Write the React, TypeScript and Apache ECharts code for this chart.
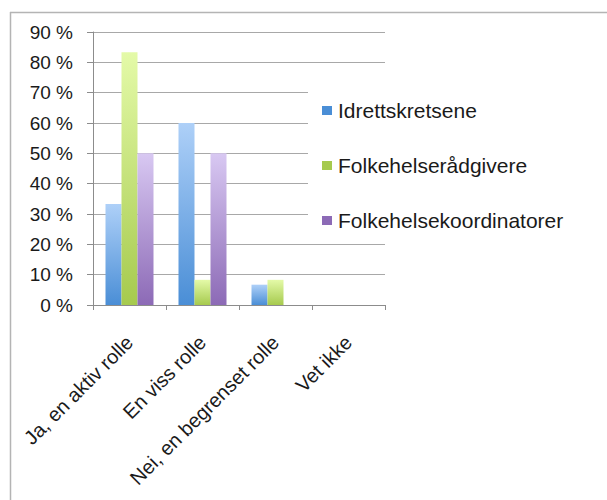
import React, { useEffect, useRef } from "react";
import * as echarts from "echarts";

const categories = ["Ja, en aktiv rolle", "En viss rolle", "Nei, en begrenset rolle", "Vet ikke"];
const seriesNames = ["Idrettskretsene", "Folkehelserådgivere", "Folkehelsekoordinatorer"];
const idrett = [33.3, 60, 6.7, 0];
const radgivere = [83.3, 8.3, 8.3, 0];
const koordinatorer = [50, 50, 0, 0];
const yTicks = [0, 10, 20, 30, 40, 50, 60, 70, 80, 90];

const grad = (top: string, bottom: string) =>
  new echarts.graphic.LinearGradient(0, 0, 0, 1, [
    { offset: 0, color: top },
    { offset: 1, color: bottom },
  ]);

export default function App() {
  const ref = useRef<HTMLDivElement>(null);
  useEffect(() => {
    const chart = echarts.init(ref.current!, null, { renderer: "svg" });
    const font = "'Liberation Sans', Arial, sans-serif";
    const colors = [
      ["#aed0f8", "#4a8ed6"],
      ["#e4faa8", "#a6ca4e"],
      ["#d8c8f2", "#8c6ab6"],
    ];
    const data = [idrett, radgivere, koordinatorer];
    chart.setOption({
      animation: false,
      backgroundColor: "#ffffff",
      graphic: [
        { type: "line", shape: { x1: 10, y1: 12.5, x2: 607, y2: 12.5 }, style: { stroke: "#b4b4b4", lineWidth: 1.5 }, z: 100 },
        { type: "line", shape: { x1: 10.5, y1: 12, x2: 10.5, y2: 500 }, style: { stroke: "#b4b4b4", lineWidth: 1.5 }, z: 100 },
      ],
      grid: { left: 93, top: 32, right: 222, bottom: 195, containLabel: false },
      legend: {
        orient: "vertical",
        left: 308,
        top: 80,
        itemWidth: 10,
        itemHeight: 9,
        itemGap: 34,
        backgroundColor: "#ffffff",
        padding: [20, 4, 12, 14],
        icon: "rect",
        textStyle: { fontFamily: font, fontSize: 21, color: "#1a1a1a", padding: [0, 0, 0, 1] },
        data: seriesNames.map((n, i) => ({ name: n, itemStyle: { color: colors[i][1] } })),
      },
      xAxis: {
        type: "category",
        data: categories,
        axisLine: { lineStyle: { color: "#8c8c8c", width: 1 } },
        axisTick: { show: true, length: 5, lineStyle: { color: "#8c8c8c" } },
        axisLabel: {
          rotate: 45,
          interval: 0,
          fontFamily: font,
          fontSize: 20,
          color: "#1a1a1a",
          margin: 34,
        },
      },
      yAxis: {
        type: "value",
        min: 0,
        max: 90,
        interval: 10,
        axisLine: { show: true, lineStyle: { color: "#8c8c8c" } },
        axisTick: { show: true, length: 6, lineStyle: { color: "#8c8c8c" } },
        splitLine: { show: true, lineStyle: { color: "#a8a8a8", width: 1 } },
        axisLabel: {
          fontFamily: font,
          fontSize: 19,
          color: "#1a1a1a",
          margin: 20,
          formatter: (v: number) => (yTicks.includes(v) ? `${v} %` : ""),
        },
      },
      series: seriesNames.map((name, i) => ({
        name,
        type: "bar",
        data: data[i],
        barWidth: 16,
        barGap: "0%",
        barCategoryGap: "34%",
        itemStyle: { color: grad(colors[i][0], colors[i][1]) },
      })),
    });
    return () => chart.dispose();
  }, []);
  return (
    <div
      ref={ref}
      style={{ position: "absolute", left: 0, top: 0, width: 607, height: 500 }}
    />
  );
}
